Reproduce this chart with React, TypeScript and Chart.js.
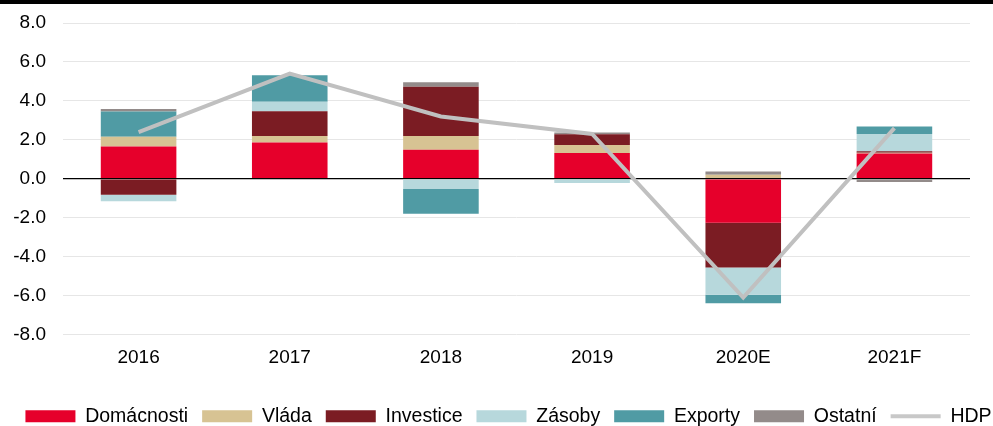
import React, { useEffect, useRef } from "react";
import { Chart, registerables } from "chart.js";

Chart.register(...registerables);

const categories = ["2016", "2017", "2018", "2019", "2020E", "2021F"];
const domacnosti = [1.66, 1.86, 1.49, 1.32, -2.26, 1.3];
const vlada = [0.5, 0.34, 0.71, 0.41, 0.2, 0.03];
const investice = [-0.82, 1.27, 2.52, 0.56, -2.3, 0.08];
const zasoby = [-0.33, 0.49, -0.53, -0.22, -1.4, 0.89];
const exporty = [1.3, 1.36, -1.27, 0.0, -0.44, 0.39];
const ostatni = [0.12, 0.0, 0.24, 0.08, 0.17, -0.17];
const hdp = [2.4, 5.4, 3.2, 2.3, -6.1, 2.6];
const yTicks = [-8, -6, -4, -2, 0, 2, 4, 6, 8];

const FONT = "Liberation Sans";

export default function App() {
  const ref = useRef<HTMLCanvasElement | null>(null);
  useEffect(() => {
    document.body.style.margin = "0";
    const bar = (label: string, data: number[], color: string) => ({
      type: "bar" as const,
      label,
      data,
      yAxisID: "y",
      xAxisID: "x",
      backgroundColor: color,
      borderWidth: 0,
      stack: "s",
      order: 1,
      categoryPercentage: 1,
      barPercentage: 0.5,
    });
    const chart = new Chart(ref.current!, {
      type: "bar",
      data: {
        labels: categories,
        datasets: [
          bar("Domácnosti", domacnosti, "#E6002B"),
          bar("Vláda", vlada, "#D7C393"),
          bar("Investice", investice, "#7B1C23"),
          bar("Zásoby", zasoby, "#B7D8DC"),
          bar("Exporty", exporty, "#509BA4"),
          bar("Ostatní", ostatni, "#938B8A"),
          {
            type: "line" as const,
            label: "HDP",
            data: hdp,
            yAxisID: "y",
            xAxisID: "x",
            borderColor: "#C0C0C0",
            backgroundColor: "#C0C0C0",
            borderWidth: 4,
            pointRadius: 0,
            tension: 0,
            stack: "line",
            order: 0,
          } as any,
        ],
      },
      options: {
        animation: false,
        responsive: false,
        maintainAspectRatio: false,
        layout: { padding: { top: 23, right: -24, left: 0, bottom: -10 } },
        plugins: {
          tooltip: { enabled: false },
          legend: {
            position: "bottom",
            labels: {
              usePointStyle: true,
              pointStyleWidth: 50,
              boxWidth: 50,
              boxHeight: 12,
              padding: 14,
              color: "#000",
              font: { family: FONT, size: 19.5 },
              generateLabels: (c: any) =>
                c.data.datasets.map((d: any, i: number) => {
                  const isLine = d.type === "line";
                  return {
                    text: d.label,
                    fillStyle: isLine ? "#C8C8C8" : d.backgroundColor,
                    strokeStyle: "#C8C8C8",
                    lineWidth: isLine ? 4 : 0,
                    pointStyle: isLine ? "line" : "rect",
                    datasetIndex: i,
                    hidden: false,
                    fontColor: "#000",
                  };
                }),
            },
          },
        },
        scales: {
          x: {
            stacked: true,
            grid: { display: false },
            border: { display: false },
            ticks: { color: "#000", font: { family: FONT, size: 19 }, padding: 4 },
            afterFit: (s: any) => {
              s.height = 58;
            },
          },
          y: {
            stacked: true,
            position: "left",
            min: -8,
            max: 8,
            afterBuildTicks: (s: any) => {
              s.ticks = yTicks.map((v) => ({ value: v }));
            },
            afterFit: (s: any) => {
              s.width = 63;
              s.paddingTop = 0;
              s.paddingBottom = 0;
            },
            grid: {
              color: (ctx: any) => (ctx.tick && ctx.tick.value === 0 ? "#000" : "#E6E6E6"),
              lineWidth: (ctx: any) => (ctx.tick && ctx.tick.value === 0 ? 1.3 : 1),
              drawTicks: false,
            },
            border: { display: false },
            ticks: {
              color: "#000",
              font: { family: FONT, size: 19 },
              padding: 17,
              callback: (v: any) => Number(v).toFixed(1),
            },
          },
          yr: {
            type: "linear",
            position: "right",
            min: -8,
            max: 8,
            grid: { display: false, drawTicks: false },
            border: { display: false },
            ticks: { display: false },
            afterFit: (s: any) => {
              s.width = 47;
              s.paddingTop = 0;
              s.paddingBottom = 0;
            },
          },
        },
      },
    } as any);
    let alive = true;
    document.fonts.ready.then(() => {
      if (alive) chart.update();
    });
    return () => {
      alive = false;
      chart.destroy();
    };
  }, []);
  return (
    <div style={{ position: "fixed", left: 0, top: 0, width: 993, height: 426, background: "#fff", overflow: "hidden" }}>
      <canvas ref={ref} width={993} height={426} style={{ position: "absolute", left: 0, top: 0, width: 993, height: 426 }} />
      <div style={{ position: "absolute", left: 0, top: 0, width: 993, height: 4, background: "#000" }} />
    </div>
  );
}
